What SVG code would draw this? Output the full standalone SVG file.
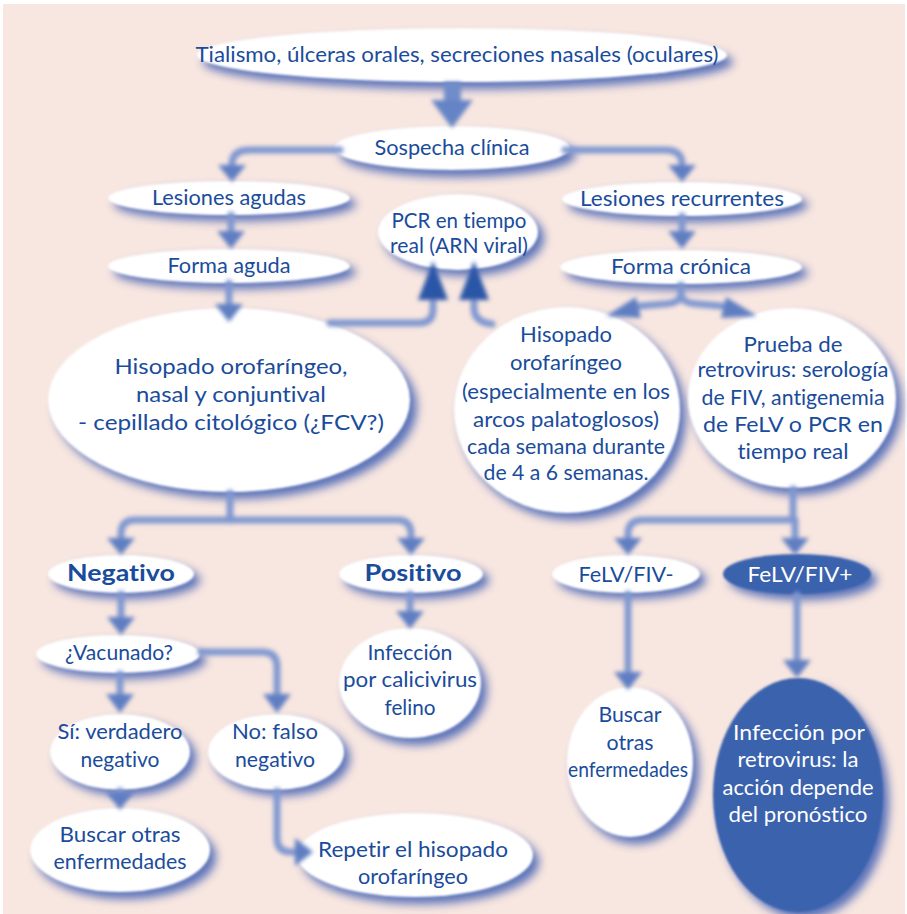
<svg xmlns="http://www.w3.org/2000/svg" width="907" height="914" viewBox="0 0 907 914">
<defs>
<filter id="fsh" x="-40%" y="-40%" width="180%" height="180%"><feGaussianBlur stdDeviation="5"/></filter>
<filter id="fsoft" x="-10%" y="-10%" width="120%" height="120%"><feGaussianBlur stdDeviation="1"/></filter>
<filter id="fln" x="-50%" y="-50%" width="200%" height="200%"><feGaussianBlur stdDeviation="2"/></filter>
<style>
.sh{fill:#3f5eb2;opacity:0.85;filter:url(#fsh)}
.nd{fill:#ffffff;filter:url(#fsoft)}
.dk{fill:#3a62ad;filter:url(#fsoft)}
text{font-family:Lato,"Open Sans","Liberation Sans",sans-serif;font-size:22px;fill:#1a4c9c;text-anchor:middle;font-variant-ligatures:none}
text.w{fill:#ffffff}
text.b{font-weight:700}
.ln{fill:none;stroke:#7f97d0;stroke-width:7;stroke-linecap:round;stroke-linejoin:round}
.ah{fill:#5f7ec2}
.up{fill:#2c56a8}
</style>
</defs>
<rect x="0" y="0" width="907" height="914" fill="#ffffff"/>
<rect x="3" y="4" width="902" height="910" fill="#f8e6e0"/>

<g id="n-title">
<ellipse class="sh" cx="468" cy="62" rx="265" ry="27"/>
<ellipse class="nd" cx="462" cy="55" rx="265" ry="27"/>
<text x="457" y="62" textLength="523" lengthAdjust="spacingAndGlyphs">Tialismo, úlceras orales, secreciones nasales (oculares)</text>
</g>
<g id="n-sospecha">
<ellipse class="sh" cx="458" cy="155" rx="118" ry="22"/>
<ellipse class="nd" cx="452" cy="148" rx="118" ry="22"/>
<text x="452" y="155" textLength="155" lengthAdjust="spacingAndGlyphs">Sospecha clínica</text>
</g>
<g id="n-lesiones-agudas">
<ellipse class="sh" cx="235" cy="204" rx="121" ry="17"/>
<ellipse class="nd" cx="229" cy="198" rx="121" ry="17"/>
<text x="229" y="205" textLength="154" lengthAdjust="spacingAndGlyphs">Lesiones agudas</text>
</g>
<g id="n-forma-aguda">
<ellipse class="sh" cx="235" cy="272" rx="121" ry="17"/>
<ellipse class="nd" cx="229" cy="266" rx="121" ry="17"/>
<text x="229" y="273" textLength="123" lengthAdjust="spacingAndGlyphs">Forma aguda</text>
</g>
<g id="n-lesiones-recurrentes">
<ellipse class="sh" cx="688" cy="205" rx="120" ry="17"/>
<ellipse class="nd" cx="682" cy="199" rx="120" ry="17"/>
<text x="682" y="206" textLength="204" lengthAdjust="spacingAndGlyphs">Lesiones recurrentes</text>
</g>
<g id="n-forma-cronica">
<ellipse class="sh" cx="687" cy="273" rx="121" ry="17"/>
<ellipse class="nd" cx="681" cy="267" rx="121" ry="17"/>
<text x="681" y="274" textLength="140" lengthAdjust="spacingAndGlyphs">Forma crónica</text>
</g>
<g id="n-pcr">
<ellipse class="sh" cx="464" cy="238" rx="80" ry="38"/>
<ellipse class="nd" cx="458" cy="232" rx="80" ry="38"/>
<text x="459" y="228" textLength="135" lengthAdjust="spacingAndGlyphs">PCR en tiempo</text>
<text x="459" y="253" textLength="138" lengthAdjust="spacingAndGlyphs">real (ARN viral)</text>
</g>
<g id="n-hisopado-agudo">
<ellipse class="sh" cx="236" cy="407" rx="181" ry="92"/>
<ellipse class="nd" cx="229" cy="400" rx="181" ry="92"/>
<text x="231" y="374" textLength="233" lengthAdjust="spacingAndGlyphs">Hisopado orofaríngeo,</text>
<text x="231" y="402" textLength="190" lengthAdjust="spacingAndGlyphs">nasal y conjuntival</text>
<text x="231" y="430" textLength="306" lengthAdjust="spacingAndGlyphs">- cepillado citológico (¿FCV?)</text>
</g>
<g id="n-hisopado-cronico">
<ellipse class="sh" cx="573" cy="417" rx="113" ry="103"/>
<ellipse class="nd" cx="567" cy="410" rx="113" ry="103"/>
<text x="566" y="342" textLength="92" lengthAdjust="spacingAndGlyphs">Hisopado</text>
<text x="566" y="370" textLength="112" lengthAdjust="spacingAndGlyphs">orofaríngeo</text>
<text x="566" y="399" textLength="208" lengthAdjust="spacingAndGlyphs">(especialmente en los</text>
<text x="566" y="427" textLength="186" lengthAdjust="spacingAndGlyphs">arcos palatoglosos)</text>
<text x="566" y="454" textLength="198" lengthAdjust="spacingAndGlyphs">cada semana durante</text>
<text x="566" y="480" textLength="165" lengthAdjust="spacingAndGlyphs">de 4 a 6 semanas.</text>
</g>
<g id="n-prueba">
<ellipse class="sh" cx="798" cy="405" rx="104" ry="90"/>
<ellipse class="nd" cx="792" cy="398" rx="104" ry="90"/>
<text x="793" y="352" textLength="99" lengthAdjust="spacingAndGlyphs">Prueba de</text>
<text x="793" y="377" textLength="191" lengthAdjust="spacingAndGlyphs">retrovirus: serología</text>
<text x="793" y="405" textLength="183" lengthAdjust="spacingAndGlyphs">de FIV, antigenemia</text>
<text x="793" y="432" textLength="180" lengthAdjust="spacingAndGlyphs">de FeLV o PCR en</text>
<text x="793" y="459" textLength="111" lengthAdjust="spacingAndGlyphs">tiempo real</text>
</g>
<g id="n-negativo">
<ellipse class="sh" cx="127" cy="580" rx="73" ry="19"/>
<ellipse class="nd" cx="121" cy="574" rx="73" ry="19"/>
<text class="b" x="121" y="581" textLength="108" lengthAdjust="spacingAndGlyphs">Negativo</text>
</g>
<g id="n-positivo">
<ellipse class="sh" cx="417" cy="580" rx="72" ry="19"/>
<ellipse class="nd" cx="411" cy="574" rx="72" ry="19"/>
<text class="b" x="413" y="581" textLength="97" lengthAdjust="spacingAndGlyphs">Positivo</text>
</g>
<g id="n-vacunado">
<ellipse class="sh" cx="124" cy="660" rx="82" ry="19"/>
<ellipse class="nd" cx="118" cy="654" rx="82" ry="19"/>
<text x="119" y="660" textLength="108" lengthAdjust="spacingAndGlyphs">¿Vacunado?</text>
</g>
<g id="n-calicivirus">
<ellipse class="sh" cx="416" cy="690" rx="71" ry="55"/>
<ellipse class="nd" cx="410" cy="683" rx="71" ry="55"/>
<text x="410" y="660" textLength="85" lengthAdjust="spacingAndGlyphs">Infección</text>
<text x="410" y="687" textLength="134" lengthAdjust="spacingAndGlyphs">por calicivirus</text>
<text x="410" y="715" textLength="51" lengthAdjust="spacingAndGlyphs">felino</text>
</g>
<g id="n-felv-neg">
<ellipse class="sh" cx="632" cy="580" rx="74" ry="19"/>
<ellipse class="nd" cx="626" cy="574" rx="74" ry="19"/>
<text x="626" y="582" textLength="95" lengthAdjust="spacingAndGlyphs">FeLV/FIV-</text>
</g>
<g id="n-felv-pos">
<ellipse class="sh" cx="803" cy="580" rx="74" ry="20"/>
<ellipse class="dk" cx="797" cy="574" rx="74" ry="20"/>
<text class="w" x="800" y="582" textLength="105" lengthAdjust="spacingAndGlyphs">FeLV/FIV+</text>
</g>
<g id="n-si">
<ellipse class="sh" cx="126" cy="758" rx="70" ry="38"/>
<ellipse class="nd" cx="120" cy="752" rx="70" ry="38"/>
<text x="120" y="739" textLength="125" lengthAdjust="spacingAndGlyphs">Sí: verdadero</text>
<text x="120" y="767" textLength="79" lengthAdjust="spacingAndGlyphs">negativo</text>
</g>
<g id="n-no">
<ellipse class="sh" cx="282" cy="758" rx="68" ry="38"/>
<ellipse class="nd" cx="276" cy="752" rx="68" ry="38"/>
<text x="275" y="739" textLength="86" lengthAdjust="spacingAndGlyphs">No: falso</text>
<text x="275" y="767" textLength="80" lengthAdjust="spacingAndGlyphs">negativo</text>
</g>
<g id="n-buscar-izq">
<ellipse class="sh" cx="126" cy="857" rx="90" ry="42"/>
<ellipse class="nd" cx="120" cy="850" rx="90" ry="42"/>
<text x="120" y="842" textLength="121" lengthAdjust="spacingAndGlyphs">Buscar otras</text>
<text x="120" y="869" textLength="133" lengthAdjust="spacingAndGlyphs">enfermedades</text>
</g>
<g id="n-repetir">
<ellipse class="sh" cx="421" cy="862" rx="118" ry="42"/>
<ellipse class="nd" cx="415" cy="855" rx="118" ry="42"/>
<text x="413" y="857" textLength="190" lengthAdjust="spacingAndGlyphs">Repetir el hisopado</text>
<text x="413" y="884" textLength="110" lengthAdjust="spacingAndGlyphs">orofaríngeo</text>
</g>
<g id="n-buscar-der">
<ellipse class="sh" cx="636" cy="769" rx="63" ry="75"/>
<ellipse class="nd" cx="630" cy="762" rx="63" ry="75"/>
<text x="630" y="722" textLength="63" lengthAdjust="spacingAndGlyphs">Buscar</text>
<text x="630" y="750" textLength="47" lengthAdjust="spacingAndGlyphs">otras</text>
<text x="628" y="777" textLength="120" lengthAdjust="spacingAndGlyphs">enfermedades</text>
</g>
<g id="n-retrovirus">
<ellipse class="sh" cx="804" cy="802" rx="85" ry="117"/>
<ellipse class="dk" cx="798" cy="795" rx="85" ry="117"/>
<text class="w" x="799" y="740" textLength="132" lengthAdjust="spacingAndGlyphs">Infección por</text>
<text class="w" x="798" y="767" textLength="121" lengthAdjust="spacingAndGlyphs">retrovirus: la</text>
<text class="w" x="798" y="795" textLength="151" lengthAdjust="spacingAndGlyphs">acción depende</text>
<text class="w" x="798" y="822" textLength="139" lengthAdjust="spacingAndGlyphs">del pronóstico</text>
</g>

<g id="connectors" filter="url(#fln)">
<rect x="444" y="82" width="17" height="22" fill="#6f8cca"/>
<polygon points="431,100 473,100 452,128" fill="#6584c6"/>
<path class="ln" d="M340,150 H250 Q232,150 232,164 V168"/>
<polygon class="ah" points="218,165 246,165 232,182"/>
<path class="ln" d="M565,150 H665 Q682,150 682,164 V168"/>
<polygon class="ah" points="668,165 696,165 682,182"/>
<path class="ln" d="M231,215 V234"/>
<polygon class="ah" points="217,231 245,231 231,249"/>
<path class="ln" d="M682,216 V234"/>
<polygon class="ah" points="668,231 696,231 682,249"/>
<path class="ln" d="M229,283 V306"/>
<polygon class="ah" points="215,304 243,304 229,322"/>
<path class="ln" d="M330,323 H419 Q433,323 433,309 V298"/>
<polygon class="up" points="418,300 448,300 433,261"/>
<path class="ln" d="M492,324 Q474,322 474,308 V298"/>
<polygon class="up" points="459,300 489,300 474,261"/>
<path class="ln" d="M681,285 V294 Q681,303 664,304 L640,306"/>
<path class="ln" d="M681,294 Q681,303 698,304 L722,306"/>
<polygon class="ah" points="636,297 606,316 641,318"/>
<polygon class="ah" points="726,297 757,316 721,318"/>
<path class="ln" d="M230,493 V520"/>
<path class="ln" d="M230,520 H135 Q121,520 121,534 V540"/>
<path class="ln" d="M230,520 H397 Q411,520 411,534 V540"/>
<polygon class="ah" points="107,538 135,538 121,555"/>
<polygon class="ah" points="397,538 425,538 411,555"/>
<path class="ln" d="M121,594 V620"/>
<polygon class="ah" points="107,617 135,617 121,635"/>
<path class="ln" d="M410,594 V613"/>
<polygon class="ah" points="396,611 424,611 410,629"/>
<path class="ln" d="M120,674 V696"/>
<polygon class="ah" points="106,694 134,694 120,713"/>
<path class="ln" d="M201,652 H262 Q277,652 277,667 V696"/>
<polygon class="ah" points="263,694 291,694 277,713"/>
<path class="ln" d="M120,791 V795"/>
<polygon class="ah" points="106,792 134,792 120,810"/>
<path class="ln" d="M277,791 V838 Q277,852 291,852 H297"/>
<polygon class="ah" points="295,838 295,866 313,852"/>
<path class="ln" d="M793,489 V520"/>
<path class="ln" d="M793,520 H643 Q628,520 628,534 V540"/>
<path class="ln" d="M795,520 V540"/>
<polygon class="ah" points="614,538 642,538 628,555"/>
<polygon class="ah" points="781,538 809,538 795,555"/>
<path class="ln" d="M628,594 V674"/>
<polygon class="ah" points="614,672 642,672 628,690"/>
<path class="ln" d="M797,595 V662"/>
<polygon class="ah" points="783,660 811,660 797,678"/>
</g>
</svg>
